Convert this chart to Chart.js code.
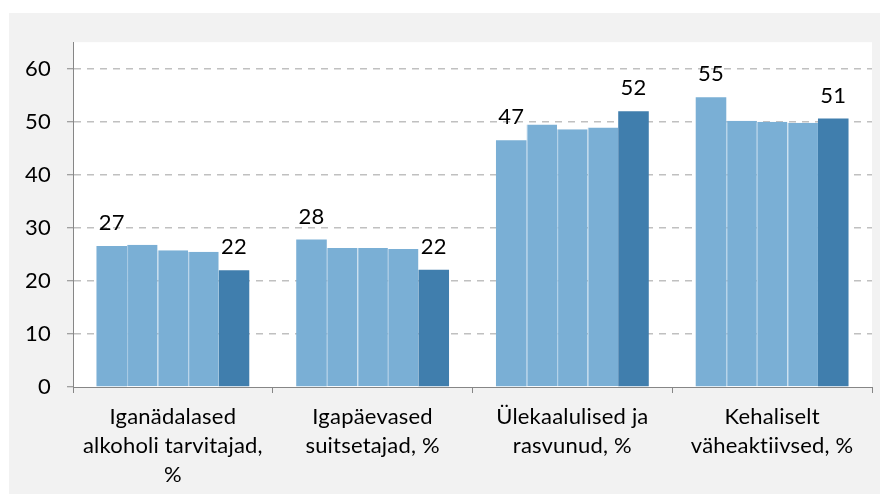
<!DOCTYPE html>
<html>
<head>
<meta charset="utf-8">
<script src="https://cdn.jsdelivr.net/npm/chart.js@4/dist/chart.umd.min.js"></script>
<style>
  body { margin: 0; background: #ffffff; }
  #panel { position: absolute; left: 9px; top: 13px; width: 871px; height: 481px; background: #f2f2f2; }
</style>
</head>
<body>
<div id="panel"><canvas id="chart" width="871" height="481"></canvas></div>
<script>
// Kategooriad
const categories = [
    ['Iganädalased', 'alkoholi tarvitajad,', '%'],
    ['Igapäevased', 'suitsetajad, %'],
    ['Ülekaalulised ja', 'rasvunud, %'],
    ['Kehaliselt', 'väheaktiivsed, %']
];

// Viis mõõtmist iga kategooria kohta
const series1 = [26.6, 27.8, 46.5, 54.6];
const series2 = [26.8, 26.2, 49.5, 50.2];
const series3 = [25.8, 26.2, 48.6, 50.0];
const series4 = [25.5, 26.0, 48.9, 49.8];
const series5 = [22.0, 22.1, 52.0, 50.6];

const yTicks = [0, 10, 20, 30, 40, 50, 60];

const lightBlue = '#7aafd5';
const darkBlue = '#407ead';
const fontFamily = 'Lato, "Open Sans", sans-serif';

// Valge joonisala taust (ja ligatuurid välja)
const plotBackground = {
    id: 'plotBackground',
    beforeDraw(chart) {
        const { ctx, chartArea } = chart;
        ctx.letterSpacing = '0.2px';
        ctx.save();
        ctx.fillStyle = '#ffffff';
        ctx.fillRect(chartArea.left, chartArea.top, chartArea.right - chartArea.left, chartArea.bottom - chartArea.top);
        ctx.restore();
    }
};

// Väärtused ainult esimese ja viimase tulba kohal
const endLabels = {
    id: 'endLabels',
    afterDatasetsDraw(chart) {
        const ctx = chart.ctx;
        ctx.save();
        ctx.font = '22px ' + fontFamily;
        ctx.fillStyle = '#000000';
        ctx.textAlign = 'center';
        ctx.textBaseline = 'alphabetic';
        [0, 4].forEach(di => {
            const meta = chart.getDatasetMeta(di);
            meta.data.forEach((bar, i) => {
                const v = chart.data.datasets[di].data[i];
                ctx.fillText(Math.round(v), bar.x, bar.y - 16);
            });
        });
        ctx.restore();
    }
};

function makeDataset(label, data, color, sep) {
    return {
        label: label,
        data: data,
        backgroundColor: color,
        borderColor: '#a4c8e4',
        borderWidth: sep ? { left: 1, right: 0, top: 0, bottom: 0 } : 0,
        borderSkipped: false,
        categoryPercentage: 0.765,
        barPercentage: 1.0
    };
}

const ctx = document.getElementById('chart').getContext('2d');
new Chart(ctx, {
    type: 'bar',
    data: {
        labels: categories,
        datasets: [
            makeDataset('1', series1, lightBlue, false),
            makeDataset('2', series2, lightBlue, true),
            makeDataset('3', series3, lightBlue, true),
            makeDataset('4', series4, lightBlue, true),
            makeDataset('5', series5, darkBlue, false)
        ]
    },
    options: {
        responsive: false,
        animation: false,
        layout: { padding: { top: 29, right: 8, left: 0, bottom: 0 } },
        plugins: {
            legend: { display: false },
            tooltip: { enabled: false }
        },
        scales: {
            x: {
                grid: {
                    drawOnChartArea: false,
                    drawTicks: true,
                    tickLength: 6,
                    tickColor: '#868686'
                },
                border: { display: true, color: '#868686', width: 1 },
                ticks: {
                    color: '#000000',
                    font: { family: fontFamily, size: 22, lineHeight: 1.32 },
                    padding: 9,
                    maxRotation: 0,
                    autoSkip: false
                },
                afterFit(scale) { scale.height = 107; }
            },
            y: {
                min: 0,
                max: 65,
                afterBuildTicks(scale) {
                    scale.ticks = yTicks.map(v => ({ value: v }));
                },
                grid: {
                    color: c => (c.tick && c.tick.value === 0) ? 'rgba(0,0,0,0)' : '#c0c0c0',
                    lineWidth: 1.5,
                    tickLength: 6,
                    tickColor: '#868686',
                    tickWidth: 1,
                    tickBorderDash: []
                },
                border: { display: true, color: '#868686', width: 1, dash: [7, 6] },
                ticks: {
                    color: '#000000',
                    font: { family: fontFamily, size: 22 },
                    padding: 16
                },
                afterFit(scale) { scale.width = 64; }
            }
        }
    },
    plugins: [plotBackground, endLabels]
});
</script>
</body>
</html>
